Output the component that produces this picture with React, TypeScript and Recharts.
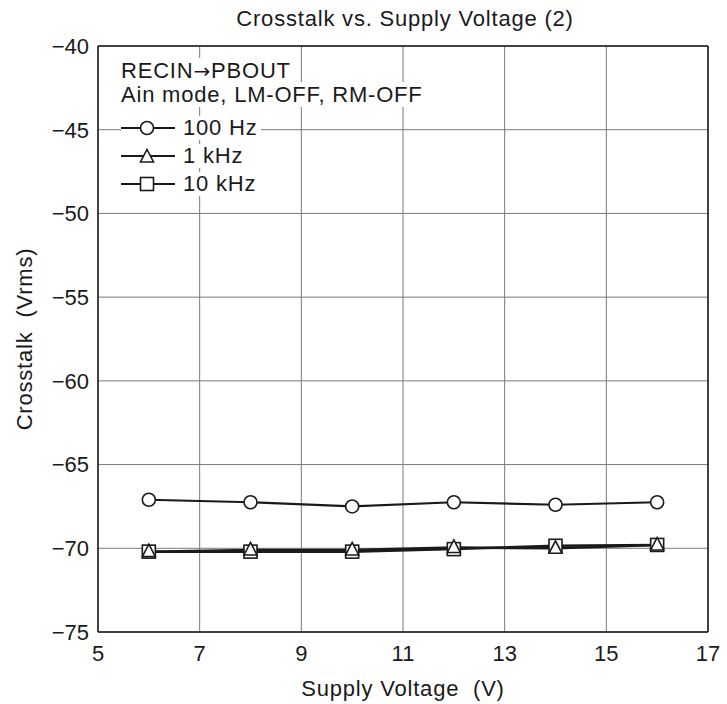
import React from 'react';
import {
  LineChart,
  Line,
  XAxis,
  YAxis,
  CartesianGrid,
  ReferenceLine,
} from 'recharts';

// Supply voltage (V) on the x axis
const voltages = [6, 8, 10, 12, 14, 16];

// Crosstalk (Vrms)
const hz100 = [-67.1, -67.25, -67.5, -67.25, -67.4, -67.25];
const khz1 = [-70.2, -70.1, -70.1, -69.95, -70.0, -69.8];
const khz10 = [-70.2, -70.2, -70.2, -70.05, -69.85, -69.8];

const xTicks = [5, 7, 9, 11, 13, 15, 17];
const yTicks = [-75, -70, -65, -60, -55, -50, -45, -40];

const data = voltages.map((v, i) => ({
  v,
  hz100: hz100[i],
  khz1: khz1[i],
  khz10: khz10[i],
}));

const INK = '#1a1a1a';
const FONT = '"Liberation Sans", Arial, sans-serif';
const SPACING = 0.8;

const fmtMinus = (v: number) => (v < 0 ? `\u2212${Math.abs(v)}` : String(v));

type DotProps = { cx?: number; cy?: number; key?: string };

const CircleDot = ({ cx, cy }: DotProps) =>
  cx == null || cy == null ? null : (
    <circle cx={cx} cy={cy} r={6.5} fill="#fff" stroke={INK} strokeWidth={1.6} />
  );

const TriangleDot = ({ cx, cy }: DotProps) =>
  cx == null || cy == null ? null : (
    <path
      d={`M${cx},${cy - 7.5} L${cx + 6.5},${cy + 5} L${cx - 6.5},${cy + 5} Z`}
      fill="#fff"
      stroke={INK}
      strokeWidth={1.6}
    />
  );

const SquareDot = ({ cx, cy }: DotProps) =>
  cx == null || cy == null ? null : (
    <rect x={cx - 6.5} y={cy - 6.5} width={13} height={13} fill="#fff" stroke={INK} strokeWidth={1.6} />
  );

const legendRows = [
  { label: '100 Hz', marker: 'circle' },
  { label: '1 kHz', marker: 'triangle' },
  { label: '10 kHz', marker: 'square' },
];

const LegendMarker = ({ kind }: { kind: string }) => (
  <svg width={54} height={20} style={{ display: 'block' }}>
    <line x1={0} y1={10} x2={54} y2={10} stroke={INK} strokeWidth={2} />
    {kind === 'circle' && <CircleDot cx={26} cy={10} />}
    {kind === 'triangle' && <TriangleDot cx={26} cy={11} />}
    {kind === 'square' && <SquareDot cx={26} cy={10} />}
  </svg>
);

const bg = { background: '#fff', paddingRight: 2 };

// Legend block sitting inside the plot, upper left
const LegendBox = () => (
  <div
    style={{
      position: 'absolute',
      left: 121,
      top: 59,
      fontFamily: FONT,
      fontSize: 22,
      letterSpacing: SPACING,
      color: INK,
      lineHeight: '24px',
    }}
  >
    <div style={{ height: 24 }}>
      <span style={bg}>
        RECIN<span style={{ fontFamily: '"DejaVu Sans"', fontSize: 20 }}>→</span>PBOUT
      </span>
    </div>
    <div style={{ height: 31 }}>
      <span style={bg}>Ain mode, LM-OFF, RM-OFF</span>
    </div>
    {legendRows.map((r) => (
      <div key={r.label} style={{ display: 'flex', alignItems: 'center', height: 28 }}>
        <span style={{ ...bg, display: 'flex', alignItems: 'center', paddingRight: 3 }}>
          <LegendMarker kind={r.marker} />
          <span style={{ marginLeft: 8 }}>{r.label}</span>
        </span>
      </div>
    ))}
  </div>
);

export default function App() {
  return (
    <div
      style={{
        position: 'absolute',
        left: 0,
        top: 0,
        width: 727,
        height: 704,
        background: '#fff',
        fontFamily: FONT,
      }}
    >
      <div
        style={{
          position: 'absolute',
          left: 0,
          width: 727,
          top: 6,
          textAlign: 'center',
          fontSize: 22,
          letterSpacing: SPACING,
          color: INK,
          paddingLeft: 83,
          boxSizing: 'border-box',
        }}
      >
        Crosstalk vs. Supply Voltage (2)
      </div>
      <LineChart
        width={727}
        height={704}
        data={data}
        margin={{ top: 46, right: 19, left: 0, bottom: 0 }}
        style={{ fontFamily: FONT }}
      >
        <CartesianGrid stroke="#7a7a7a" strokeWidth={1} />
        <XAxis
          dataKey="v"
          type="number"
          domain={[5, 17]}
          ticks={xTicks}
          height={72}
          tickLine={false}
          tickMargin={7}
          axisLine={{ stroke: INK, strokeWidth: 1.5 }}
          tick={{ fontSize: 22, fill: INK }}
          label={{
            value: 'Supply Voltage\u00a0\u00a0(V)',
            position: 'insideBottom',
            offset: 8,
            fontSize: 22,
            fill: INK,
            style: { letterSpacing: SPACING },
          }}
        />
        <YAxis
          type="number"
          domain={[-75, -40]}
          ticks={yTicks}
          width={98}
          tickLine={false}
          tickMargin={3}
          tickFormatter={fmtMinus}
          axisLine={{ stroke: INK, strokeWidth: 1.5 }}
          tick={{ fontSize: 22, fill: INK }}
          label={{
            value: 'Crosstalk\u00a0\u00a0(Vrms)',
            angle: -90,
            position: 'insideLeft',
            offset: 24,
            fontSize: 22,
            fill: INK,
            style: { textAnchor: 'middle', letterSpacing: SPACING },
          }}
        />
        <ReferenceLine y={-40} stroke={INK} strokeWidth={1.5} />
        <ReferenceLine x={17} stroke={INK} strokeWidth={1.5} />
        <Line
          dataKey="hz100"
          stroke={INK}
          strokeWidth={2.2}
          dot={(p: DotProps) => <CircleDot key={p.key} cx={p.cx} cy={p.cy} />}
          isAnimationActive={false}
        />
        <Line
          dataKey="khz10"
          stroke={INK}
          strokeWidth={2.5}
          dot={(p: DotProps) => <SquareDot key={p.key} cx={p.cx} cy={p.cy} />}
          isAnimationActive={false}
        />
        <Line
          dataKey="khz1"
          stroke={INK}
          strokeWidth={2.5}
          dot={(p: DotProps) => <TriangleDot key={p.key} cx={p.cx} cy={p.cy} />}
          isAnimationActive={false}
        />
      </LineChart>
      <LegendBox />
    </div>
  );
}
